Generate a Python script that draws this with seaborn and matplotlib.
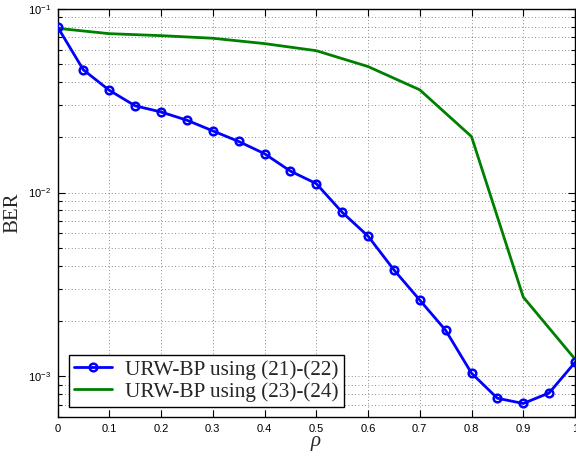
import numpy as np
import pandas as pd
import matplotlib
matplotlib.use("Agg")
import matplotlib.pyplot as plt
import seaborn as sns
from matplotlib.ticker import FixedLocator, LogLocator, NullFormatter, FixedFormatter
from matplotlib.lines import Line2D

rho = [0.0, 0.05, 0.1, 0.15, 0.2, 0.25, 0.3, 0.35, 0.4, 0.45, 0.5,
       0.55, 0.6, 0.65, 0.7, 0.75, 0.8, 0.85, 0.9, 0.95, 1.0]
ber_2122 = [0.080, 0.0466, 0.0361, 0.0297, 0.0275, 0.0248, 0.0217, 0.0190,
            0.0163, 0.0131, 0.0112, 0.00782, 0.00580, 0.00380, 0.00260,
            0.00178, 0.00104, 0.000759, 0.000711, 0.000811, 0.00119]

rho_b = [0.0, 0.1, 0.2, 0.3, 0.4, 0.5, 0.6, 0.7, 0.8, 0.9, 1.0]
ber_2324 = [0.0785, 0.0734, 0.0716, 0.0693, 0.0648, 0.0593, 0.0486,
            0.0363, 0.0202, 0.00270, 0.00124]

labels = ["URW-BP using (21)-(22)", "URW-BP using (23)-(24)"]
xticks = [0, 0.1, 0.2, 0.3, 0.4, 0.5, 0.6, 0.7, 0.8, 0.9, 1]
xticklabels = ["0", "0.1", "0.2", "0.3", "0.4", "0.5", "0.6", "0.7", "0.8", "0.9", "1"]
yticks = [1e-3, 1e-2, 1e-1]
yticklabels = [r"$10^{-3}$", r"$10^{-2}$", r"$10^{-1}$"]

df_a = pd.DataFrame({"rho": rho, "BER": ber_2122})
df_b = pd.DataFrame({"rho": rho_b, "BER": ber_2324})

sns.set_theme(style="white")
plt.rcParams["font.family"] = ["Liberation Sans", "DejaVu Sans"]
plt.rcParams["mathtext.fontset"] = "custom"
plt.rcParams["mathtext.rm"] = "Liberation Sans"
plt.rcParams["mathtext.it"] = "Liberation Serif:italic"

fig = plt.figure(figsize=(5.76, 4.55), dpi=100)
ax = fig.add_axes([57.5 / 576, 1 - 417 / 455, (575 - 57.5) / 576, (417 - 9) / 455])

sns.lineplot(data=df_a, x="rho", y="BER", ax=ax, color="#0000ff", lw=2.0,
             marker="o", markersize=5.5, markerfacecolor="none",
             markeredgecolor="#0000ff", markeredgewidth=1.8, zorder=4)
sns.lineplot(data=df_b, x="rho", y="BER", ax=ax, color="#008000", lw=2.0, zorder=3)

ax.set_yscale("log")
ax.set_xlim(0, 1)
ax.set_ylim(6.0e-4, 0.1)

ax.xaxis.set_major_locator(FixedLocator(xticks))
ax.xaxis.set_major_formatter(FixedFormatter(xticklabels))
ax.yaxis.set_major_locator(FixedLocator(yticks))
ax.yaxis.set_major_formatter(FixedFormatter(yticklabels))
ax.yaxis.set_minor_locator(LogLocator(base=10, subs=np.arange(2, 10), numticks=20))
ax.yaxis.set_minor_formatter(NullFormatter())

ax.grid(True, which="major", axis="both", linestyle=(0, (1, 3)), color="0.4", linewidth=0.6)
ax.grid(True, which="minor", axis="y", linestyle=(0, (1, 3)), color="0.4", linewidth=0.6)

ax.tick_params(which="both", direction="in", top=True, right=True, bottom=True, left=True,
               colors="black", labelsize=8, width=0.8)
ax.tick_params(which="major", length=5, pad=5)
ax.tick_params(which="minor", length=3)
for s in ax.spines.values():
    s.set_color("black")
    s.set_linewidth(1.0)

ax.set_xlabel(r"$\rho$", fontsize=15, labelpad=0)
ax.set_ylabel("BER", fontsize=15, family="Liberation Serif", labelpad=4)

handles = [
    Line2D([], [], color="#0000ff", lw=2.0, marker="o", markersize=5.5,
           markerfacecolor="none", markeredgecolor="#0000ff", markeredgewidth=1.8),
    Line2D([], [], color="#008000", lw=2.0),
]
leg = ax.legend(handles, labels, loc="lower left", bbox_to_anchor=(11.5 / 517.5, 10 / 408),
                borderaxespad=0, fancybox=False, framealpha=1, edgecolor="black",
                prop={"family": "Liberation Serif", "size": 15.3}, handlelength=1.75,
                handletextpad=0.65, labelspacing=0.1, borderpad=0.25)
leg.get_frame().set_linewidth(1.0)

fig.savefig("out.png", dpi=100)
